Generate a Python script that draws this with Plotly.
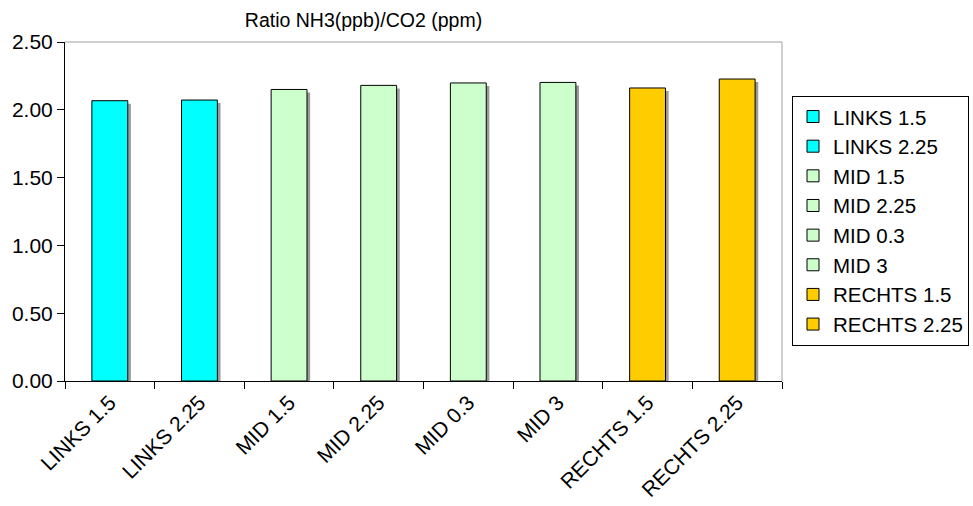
import plotly.graph_objects as go

categories = ["LINKS 1.5", "LINKS 2.25", "MID 1.5", "MID 2.25", "MID 0.3", "MID 3", "RECHTS 1.5", "RECHTS 2.25"]
values = [2.067, 2.072, 2.150, 2.180, 2.198, 2.202, 2.161, 2.227]
colors = ["#00FFFF", "#00FFFF", "#CCFFCC", "#CCFFCC", "#CCFFCC", "#CCFFCC", "#FFCC00", "#FFCC00"]
y_ticks = [0, 0.5, 1.0, 1.5, 2.0, 2.5]
title_text = "Ratio NH3(ppb)/CO2 (ppm)"

FONT = "Liberation Sans, Arial, sans-serif"
BAR_W = 0.40

fig = go.Figure()

# shadows
for cat, val in zip(categories, values):
    fig.add_trace(go.Bar(
        x=[cat], y=[val - 0.022], width=BAR_W, offset=-BAR_W / 2 + 0.035,
        marker=dict(color="#9a9a9a", line=dict(width=0)),
        showlegend=False, hoverinfo="skip",
    ))

for cat, val, col in zip(categories, values, colors):
    fig.add_trace(go.Bar(
        x=[cat], y=[val], name=cat, width=BAR_W, offset=-BAR_W / 2,
        marker=dict(color=col, line=dict(color="#000000", width=1)),
    ))

fig.update_layout(
    width=973, height=506,
    margin=dict(l=65, r=191, t=42, b=125, autoexpand=False),
    paper_bgcolor="white", plot_bgcolor="white",
    barmode="overlay",
    font=dict(family=FONT, size=21, color="black"),
    title=dict(text=title_text, font=dict(family=FONT, size=19.5, color="black"),
               xref="container", x=363.5 / 973, xanchor="center",
               yref="container", y=1 - 20 / 506, yanchor="middle"),
    showlegend=True,
    legend=dict(xref="container", yref="container",
                x=792 / 973, y=1 - 95.7 / 506, xanchor="left", yanchor="top",
                bordercolor="black", borderwidth=1, bgcolor="white",
                font=dict(family=FONT, size=20.5, color="black"),
                traceorder="normal"),
    xaxis=dict(type="category", categoryorder="array", categoryarray=categories,
               showline=True, linecolor="black", linewidth=1,
               ticks="outside", ticklen=7, tickcolor="black", tickson="boundaries",
               tickangle=-45, showgrid=False, zeroline=False,
               tickfont=dict(family=FONT, size=21, color="black")),
    yaxis=dict(range=[0, 2.5], tickvals=y_ticks, tickformat=".2f",
               showline=True, linecolor="black", linewidth=1,
               ticks="outside", ticklen=7, tickcolor="black",
               showgrid=False, zeroline=False,
               tickfont=dict(family=FONT, size=21, color="black")),
    shapes=[
        dict(type="line", xref="paper", yref="paper", x0=0, x1=1, y0=1, y1=1,
             line=dict(color="#a0a0a0", width=1)),
        dict(type="line", xref="paper", yref="paper", x0=1, x1=1, y0=0, y1=1,
             line=dict(color="#a0a0a0", width=1)),
    ],
)

fig.write_html("out.html")
